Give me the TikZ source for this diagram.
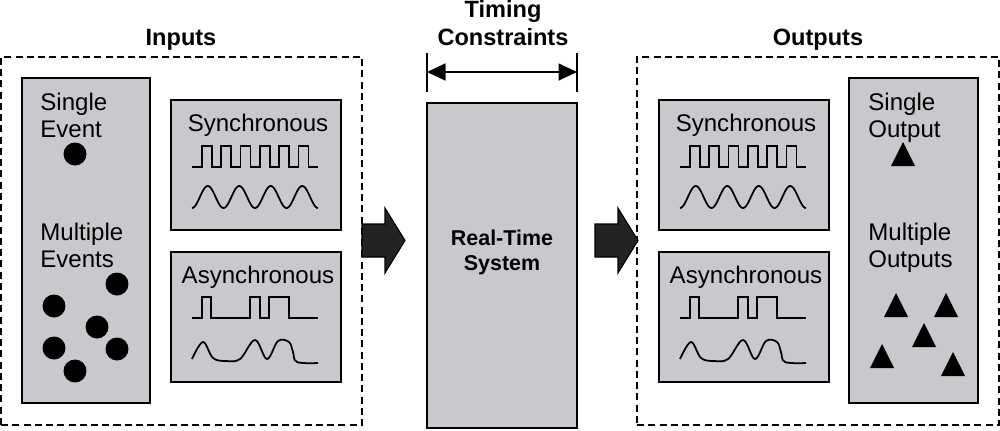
\documentclass[tikz,border=0pt]{standalone}
\usepackage{fontspec}
\setmainfont{Liberation Sans}
\usetikzlibrary{arrows.meta}
\definecolor{caixacinza}{RGB}{200,201,204}
\definecolor{setaescura}{RGB}{35,35,35}
\begin{document}
\begin{tikzpicture}[x=0.02cm, y=-0.02cm,
	moldura/.style={draw, line width=0.8pt, dash pattern=on 4pt off 2.4pt, inner sep=0pt},
	caixa/.style={draw, fill=caixacinza, line width=1pt, inner sep=0pt},
	titulo/.style={font=\fontsize{13.4}{15.4}\selectfont\bfseries, align=center, inner sep=0pt},
	rotulo/.style={font=\fontsize{13.7}{15.3}\selectfont, align=left, inner sep=0pt},
	onda/.style={line width=1pt},
	seta/.style={fill=setaescura, draw=black, line width=0.6pt}]
	\useasboundingbox (0,0) rectangle (1000,430);
		%Molduras tracejadas
	\node[moldura, minimum width=7.22cm, minimum height=7.36cm] (entradas) at (181.5,241) {};
	\node[moldura, minimum width=7.24cm, minimum height=7.36cm] (saidas) at (818,241) {};
	\node[titulo, anchor=base] (tin) at (181,45) {Inputs};
	\node[titulo, anchor=base] (tout) at (818,45) {Outputs};
	\node[titulo, anchor=base] (ttc) at (503,45) {Timing\\Constraints};
		%Eventos de entrada
	\node[caixa, minimum width=2.56cm, minimum height=6.5cm] (eventos) at (86,240.5) {};
	\node[rotulo, anchor=base west] (sev) at (40,137) {Single\\Event};
	\node[rotulo, anchor=base west] (mev) at (40,267) {Multiple\\Events};
	\foreach \cx/\cy in {75/154, 117/284, 54/306, 97/327, 54/348, 117/349, 75/371}
		\fill (\cx,\cy) circle[radius=0.23cm];
		%Saidas
	\node[caixa, minimum width=2.58cm, minimum height=6.5cm] (saidasev) at (913.5,240.5) {};
	\node[rotulo, anchor=base west] (sout) at (868,137) {Single\\Output};
	\node[rotulo, anchor=base west] (mout) at (868,267) {Multiple\\Outputs};
	\foreach \cx/\ty in {903/142, 896/293, 946/293, 924/323, 882/344, 953/352}
		\fill (\cx,\ty) -- ++(-12,24) -- ++(24,0) -- cycle;
		%Sinais sincronos e assincronos
	\foreach \dx/\lado in {0/in, 488/out}{
		\node[caixa, minimum width=3.4cm, minimum height=2.6cm] (sinc\lado) at (256+\dx,165) {};
		\node[caixa, minimum width=3.4cm, minimum height=2.6cm] (assinc\lado) at (256+\dx,317) {};
		\node[rotulo, anchor=base] at (258+\dx,131) {Synchronous};
		\node[rotulo, anchor=base] at (258+\dx,283) {Asynchronous};
		\begin{scope}[shift={(\dx,0)}]
			\draw[onda] (192,167) \foreach \k in {0,...,5}{ -- ({202+19.3*\k},167) -- ({202+19.3*\k},146) -- ({212+19.3*\k},146) -- ({212+19.3*\k},167)} -- (318,167);
			\draw[onda] plot[domain=192:318, samples=120, smooth] (\x,{197+11*cos(11.4286*(\x-192))});
			\draw[onda] (192,318) -- (202,318) -- (202,297) -- (211,297) -- (211,318) -- (250,318) -- (250,297) -- (260,297) -- (260,318) -- (269,318) -- (269,297) -- (289,297) -- (289,318) -- (318,318);
			\draw[onda] plot[smooth, tension=0.6] coordinates {(192,359) (203,342) (213,358) (226,361) (240,359) (255,340) (267,359) (278,341) (289,342) (293,352) (297,362) (318,363)};
		\end{scope}
	}
		%Sistema de tempo real
	\node[caixa, minimum width=3cm, minimum height=6.5cm] (rts) at (502,265.5) {};
	\node[titulo, font=\fontsize{12.2}{14.2}\selectfont\bfseries, anchor=base] (trts) at (502,270) {Real-Time\\System};
	\coordinate (tc1) at (427,72);
	\coordinate (tc2) at (577,72);
	\draw[line width=1pt] (427,53) -- (427,92); %Marca esquerda
	\draw[line width=1pt] (577,53) -- (577,92); %Marca direita
	\draw[line width=1pt, {Triangle[length=0.37cm,width=0.34cm]}-{Triangle[length=0.37cm,width=0.34cm]}] (tc1) -- (tc2);
		%Setas largas
	\foreach \ax in {362,595}
		\draw[seta] (\ax,224) -- ++(23,0) -- ++(0,-16) -- ++(20,32.5) -- ++(-20,32.5) -- ++(0,-16) -- ++(-23,0) -- cycle;
\end{tikzpicture}
\end{document}
